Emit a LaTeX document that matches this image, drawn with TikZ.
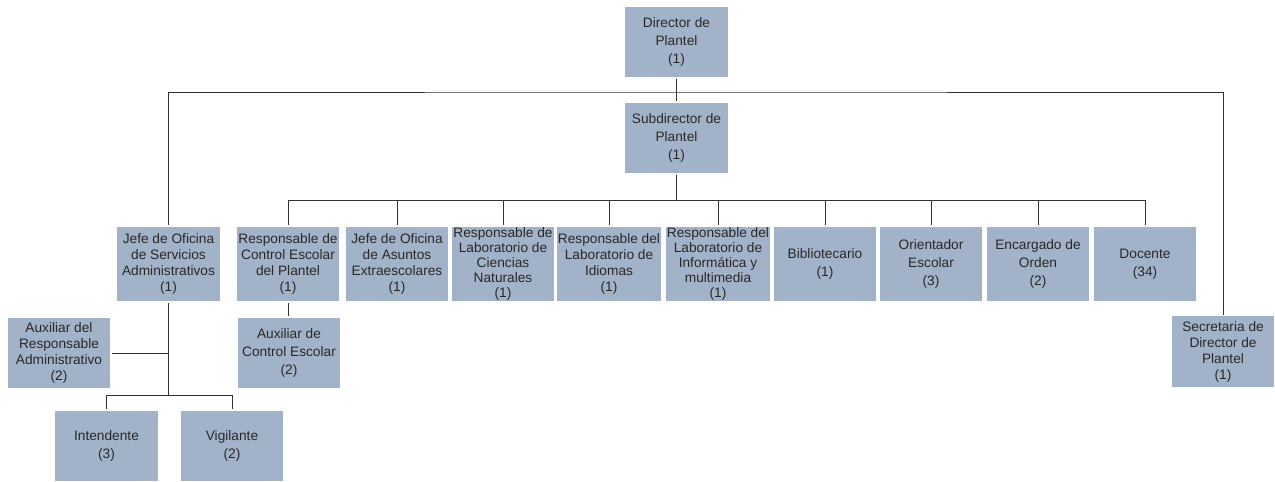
\documentclass[tikz,border=0pt]{standalone}
\usepackage{fontspec}
\setmainfont{Liberation Sans}
\usepackage{tikz}
\usetikzlibrary{positioning}
\definecolor{boxblue}{RGB}{162,179,201}
\definecolor{inkgrey}{RGB}{40,40,40}

\begin{document}
\begin{tikzpicture}[x=0.02cm, y=-0.02cm, line width=0.5pt,
    post/.style={fill=boxblue, draw=white, line width=0.8pt, inner sep=1pt,
      minimum width=2.08cm, minimum height=1.44cm, align=center,
      text=inkgrey, font=\fontsize{7.8}{10.4}\selectfont},
    rowpost/.style={post, minimum height=1.52cm},
    fourline/.style={font=\fontsize{7.8}{9.1}\selectfont},
    fiveline/.style={font=\fontsize{7.8}{8.5}\selectfont},
    link/.style={draw=black!80, line width=0.5pt}]
    \useasboundingbox (0,0) rectangle (1275,482);

    \node[post](dir) at (676.5, 42) {Director de\\Plantel\\(1)};
    \node[post](sub) at (676.5,138) {Subdirector de\\Plantel\\(1)};

    \node[rowpost,fourline](jso) at (168.5,264) {Jefe de Oficina\\de Servicios\\Administrativos\\(1)};
    \node[rowpost,fourline](rce) at (288,264) {Responsable de\\Control Escolar\\del Plantel\\(1)};
    \node[rowpost,fourline](jae) at (397,264) {Jefe de Oficina\\de Asuntos\\Extraescolares\\(1)};
    \node[rowpost,fiveline](lcn) at (503,264) {Responsable de\\Laboratorio de\\Ciencias\\Naturales\\(1)};
    \node[rowpost,fourline](lid) at (609,264) {Responsable del\\Laboratorio de\\Idiomas\\(1)};
    \node[rowpost,fiveline](lim) at (718,264) {Responsable del\\Laboratorio de\\Informática y\\multimedia\\(1)};
    \node[rowpost](bib) at (825,264) {Bibliotecario\\(1)};
    \node[rowpost](ori) at (931,264) {Orientador\\Escolar\\(3)};
    \node[rowpost](enc) at (1038,264) {Encargado de\\Orden\\(2)};
    \node[rowpost](doc) at (1145,264) {Docente\\(34)};

    \node[post](ace) at (289,353) {Auxiliar de\\Control Escolar\\(2)};
    \node[post,fourline](aux) at (59,353) {Auxiliar del\\Responsable\\Administrativo\\(2)};
    \node[post,fourline](sec) at (1223,351.5) {Secretaria de\\Director de\\Plantel\\(1)};

    \node[post](int) at (106.5,446) {Intendente\\(3)};
    \node[post](vig) at (232,446) {Vigilante\\(2)};

    % connectors
    \coordinate(top) at (676.5,92);
    \coordinate(mid) at (676.5,200);
    \coordinate(split) at (168.5,395);

    \draw[link] (dir) -- (sub);
    \draw[link] (jso.north) |- (top) -| (sec.north);
    \draw[link] (sub.south) -- (mid);
    \foreach \n in {rce,jae,lcn,lid,lim,bib,ori,enc,doc}
      \draw[link] (mid) -| (\n.north);
    \draw[link] (rce.south) -- (ace.north -| rce.south);

    \draw[link] (jso.south) -- (split);
    \draw[link] (aux.east) -- (aux.east -| split);
    \draw[link] (split) -| (int.north);
    \draw[link] (split) -| (vig.north);

  \end{tikzpicture}
\end{document}
